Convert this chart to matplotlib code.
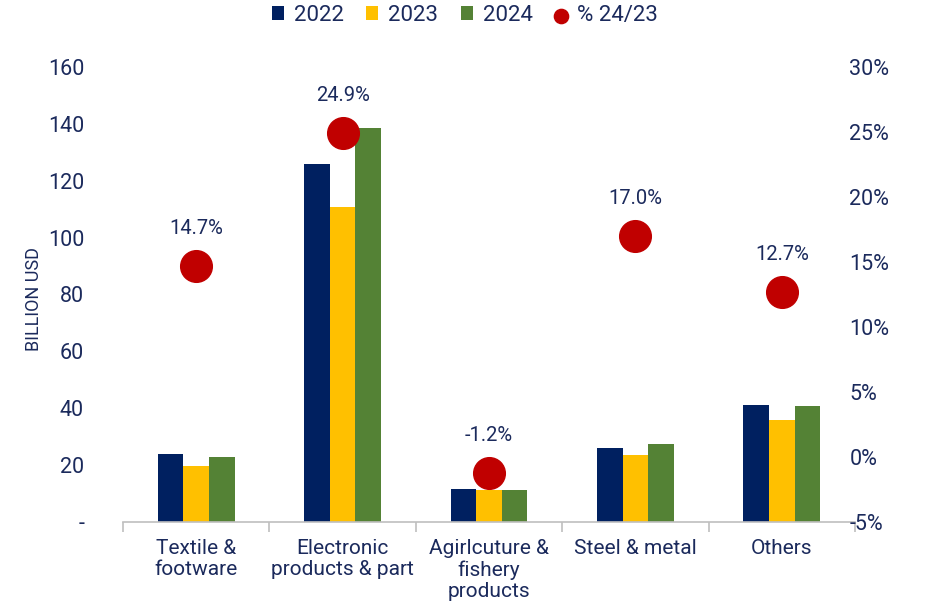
import numpy as np
import matplotlib.pyplot as plt
from matplotlib.ticker import FuncFormatter, FixedLocator

plt.rcParams['font.family'] = ['Roboto', 'DejaVu Sans']

categories = ['Textile &\nfootware', 'Electronic\nproducts & part',
              'Agirlcuture &\nfishery\nproducts', 'Steel & metal', 'Others']
exports_2022 = [23.9, 125.9, 11.6, 26.0, 41.1]
exports_2023 = [19.7, 110.8, 11.3, 23.6, 35.9]
exports_2024 = [22.9, 138.5, 11.3, 27.4, 40.8]
growth_pct = [14.7, 24.9, -1.2, 17.0, 12.7]

NAVY = '#002060'
YELLOW = '#FFC000'
GREEN = '#548235'
RED = '#C00000'
TEXT = '#1B2A5C'

fig = plt.figure(figsize=(9.45, 6.13), dpi=100)
ax = fig.add_axes([123 / 945, 1 - 522 / 613, 732 / 945, 455 / 613])
ax2 = ax.twinx()

x = np.arange(len(categories))
w = 0.175
b1 = ax.bar(x - w, exports_2022, w, color=NAVY, label='2022')
b2 = ax.bar(x, exports_2023, w, color=YELLOW, label='2023')
b3 = ax.bar(x + w, exports_2024, w, color=GREEN, label='2024')

ax.set_xlim(-0.5, len(categories) - 0.5)
ax.set_ylim(0, 160)
ax.set_yticks(range(0, 161, 20))
ax.yaxis.set_major_formatter(FuncFormatter(lambda v, p: '-' if v == 0 else f'{v:.0f}'))
ax.tick_params(axis='y', length=0, pad=28, labelsize=15.5, labelcolor=TEXT)
ax.set_ylabel('BILLION USD', fontsize=13, color=TEXT)
ax.yaxis.set_label_coords(-0.109, 0.49)

# category labels between boundary ticks
ax.set_xticks(x)
ax.set_xticklabels(categories, fontsize=15, color=TEXT, va='top', linespacing=1.15)
ax.tick_params(axis='x', length=0, pad=12)
ax.xaxis.set_minor_locator(FixedLocator(np.arange(-0.5, len(categories), 1.0)))
ax.tick_params(axis='x', which='minor', length=7, color='#BFBFBF', width=1.2)

for s in ['top', 'right', 'left']:
    ax.spines[s].set_visible(False)
ax.spines['bottom'].set_color('#BFBFBF')
ax.spines['bottom'].set_linewidth(1.2)
for s in ['top', 'right', 'left', 'bottom']:
    ax2.spines[s].set_visible(False)

ax2.set_ylim(-5, 30)
ax2.set_yticks(range(-5, 31, 5))
ax2.yaxis.set_major_formatter(FuncFormatter(lambda v, p: f'{v:.0f}%'))
ax2.tick_params(axis='y', length=0, pad=-4, labelsize=15.5, labelcolor=TEXT)

dots = ax2.scatter(x, growth_pct, s=520, color=RED, zorder=5, label='% 24/23')
for xi, g in zip(x, growth_pct):
    ax2.annotate(f'{g:.1f}%', (xi, g), xytext=(0, 27), textcoords='offset points',
                 ha='center', va='center', fontsize=14.5, color=TEXT)

handles = [b1, b2, b3, dots]
fig.legend(handles, ['2022', '2023', '2024', '% 24/23'], loc='upper center',
           bbox_to_anchor=(0.492, 1.025), ncol=4, frameon=False, fontsize=16,
           labelcolor=TEXT, handlelength=0.55, handleheight=0.55, handletextpad=0.45,
           columnspacing=1.0, markerscale=0.45)

fig.savefig('out.png', dpi=100)
